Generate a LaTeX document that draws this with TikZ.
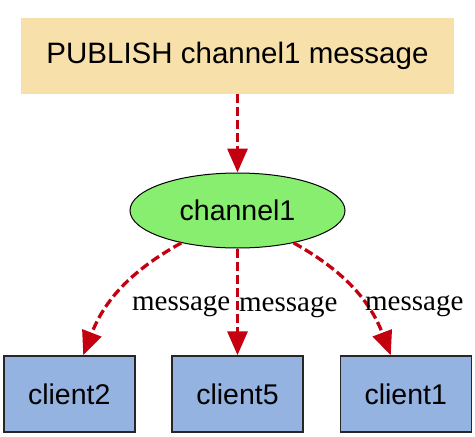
\documentclass[tikz,border=0pt]{standalone}
\usepackage{fontspec}
\setmainfont{Liberation Sans}
\newfontfamily\msgfont{Liberation Serif}
\usetikzlibrary{arrows.meta,shapes.geometric}
\definecolor{pubfill}{RGB}{248,224,170}
\definecolor{chanfill}{RGB}{136,238,112}
\definecolor{clientfill}{RGB}{149,179,224}
\definecolor{msgred}{RGB}{196,0,16}
\begin{document}
\begin{tikzpicture}[x=1pt,y=1pt,
    level 1/.style={level distance=154.5pt},
    level 2/.style={level distance=183.5pt,sibling distance=168.25pt},
    edge from parent/.style={draw=none},
    every node/.style={font=\fontsize{28.5}{34}\selectfont},
    pubbox/.style={fill=pubfill,minimum width=433pt,minimum height=76pt,inner sep=0pt,
      font=\fontsize{29.5}{35}\selectfont},
    chan/.style={ellipse,draw,fill=chanfill,line width=1pt,minimum width=215pt,minimum height=75pt,inner sep=0pt},
    client/.style={draw=black!85,fill=clientfill,line width=1.5pt,minimum width=131pt,minimum height=76pt,inner sep=0pt},
    msgarrow/.style={draw=msgred,line width=3.3pt,dash pattern=on 9pt off 4pt,
      -{Triangle[length=24pt,width=20pt,fill=msgred]}},
    msglabel/.style={font=\msgfont\fontsize{29}{34}\selectfont,inner sep=1pt,anchor=west}]
  \useasboundingbox (0,0) rectangle (475,-437);
  \node[pubbox] (pub) at (237.5,-56) {PUBLISH channel1 message}
    child {node[chan] (ch) {channel1}
        child {node[client] (c2) {client2}}
        child {node[client] (c5) {client5}}
        child {node[client] (c1) {client1}}
    }
        ;
  \draw[msgarrow] (pub) -- (ch);
  \draw[msgarrow] (ch.210) to[bend right=20]
    node[msglabel,pos=0.55,xshift=13pt,yshift=-11pt] {message} ([xshift=14pt]c2.north);
  \draw[msgarrow] (ch) -- node[msglabel,pos=0.55,xshift=-1pt] {message} (c5);
  \draw[msgarrow] (ch.330) to[bend left=20]
    node[msglabel,pos=0.5,xshift=9pt,yshift=-17pt] {message} ([xshift=-15pt]c1.north);
\end{tikzpicture}
\end{document}
